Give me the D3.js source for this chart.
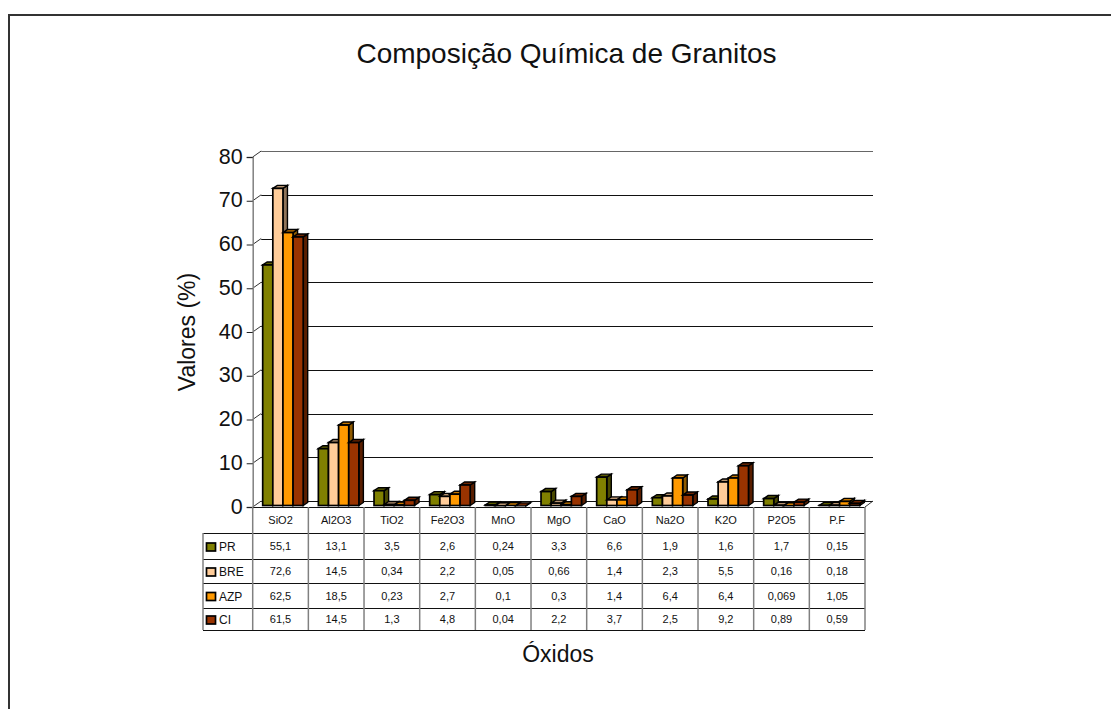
<!DOCTYPE html>
<html>
<head>
<meta charset="utf-8">
<title>Composição Química de Granitos</title>
<script src="https://cdn.jsdelivr.net/npm/d3@7"></script>
<style>
  html, body { margin: 0; padding: 0; background: #fff; }
  svg { display: block; }
  text { font-family: "Liberation Sans", Arial, sans-serif; fill: #111; }
</style>
</head>
<body>
<div id="chart"></div>
<script>
var oxides = ['SiO2', 'Al2O3', 'TiO2', 'Fe2O3', 'MnO', 'MgO', 'CaO', 'Na2O', 'K2O', 'P2O5', 'P.F']
var seriesNames = ['PR', 'BRE', 'AZP', 'CI']
var PR = [55.1, 13.1, 3.5, 2.6, 0.24, 3.3, 6.6, 1.9, 1.6, 1.7, 0.15]
var BRE = [72.6, 14.5, 0.34, 2.2, 0.05, 0.66, 1.4, 2.3, 5.5, 0.16, 0.18]
var AZP = [62.5, 18.5, 0.23, 2.7, 0.1, 0.3, 1.4, 6.4, 6.4, 0.069, 1.05]
var CI = [61.5, 14.5, 1.3, 4.8, 0.04, 2.2, 3.7, 2.5, 9.2, 0.89, 0.59]
var yTicks = [0, 10, 20, 30, 40, 50, 60, 70, 80]

var seriesValues = [PR, BRE, AZP, CI]
var fillColors = ['#808000', '#ffcc99', '#ff9900', '#993300']
var topColors = ['#5c5c00', '#b89470', '#c47600', '#6e2500']
var sideColors = ['#4a4a00', '#8f7358', '#8f5a00', '#591e00']

var width = 1111
var height = 709
var depthX = 8.5, depthY = -6     // depth of the back wall
var barDX = 4.5, barDY = -3       // depth of each bar
var rowEdges = [507, 533, 559, 583, 608, 630]
var tableLeft = 203

var svg = d3.select('#chart').append('svg')
    .attr('width', width)
    .attr('height', height)

// outer frame, runs off the right and bottom of the picture
svg.append('path')
    .attr('d', 'M9,709V15H1111')
    .attr('fill', 'none')
    .attr('stroke', '#333')
    .attr('stroke-width', 2)

var x = d3.scaleBand().domain(oxides).range([252.7, 865])
var xInner = d3.scaleBand().domain(seriesNames)
    .range([10, 50.5])
var y = d3.scaleLinear().domain([0, 80]).range([507, 157])

// gridlines on back wall
svg.selectAll('.grid')
    .data(yTicks)
    .enter().append('line')
    .attr('class', 'grid')
    .attr('x1', x.range()[0] + depthX)
    .attr('x2', 873)
    .attr('y1', function (d) { return Math.round(y(d) + depthY) + 0.5 })
    .attr('y2', function (d) { return Math.round(y(d) + depthY) + 0.5 })
    .attr('stroke', function (d) { return d == 80 ? '#666' : '#111' })
    .attr('stroke-width', 1.2)

// diagonals from the axis to back wall
svg.selectAll('.diag')
    .data(yTicks)
    .enter().append('line')
    .attr('class', 'diag')
    .attr('x1', x.range()[0])
    .attr('x2', x.range()[0] + depthX)
    .attr('y1', function (d) { return y(d) })
    .attr('y2', function (d) { return y(d) + depthY })
    .attr('stroke', '#333')

// floor edge on the right
svg.append('line')
    .attr('x1', 865).attr('y1', y(0))
    .attr('x2', 873).attr('y2', y(0) + depthY)
    .attr('stroke', '#333')

var yAxis = d3.axisLeft(y).tickValues(yTicks).tickSize(6).tickPadding(4)
var yG = svg.append('g')
    .attr('transform', 'translate(252.7,0)')
    .call(yAxis)
yG.select('.domain').attr('stroke', '#808080').attr('stroke-width', 1.5)
yG.selectAll('.tick line').attr('stroke', '#222')
yG.selectAll('.tick text')
    .attr('dy', '0.28em')
    .style('font-size', '21.5px')
    .style('font-family', '"Liberation Sans", Arial, sans-serif')
    .attr('fill', '#111')

// bars
oxides.forEach(function (ox, i) {
  seriesNames.forEach(function (name, s) {
    var v = seriesValues[s][i]
    var x0 = x(ox) + xInner(name)
    var x1 = x0 + xInner.bandwidth()
    var y0 = y(v) - 1
    var yb = y(0) - 1.5
    var g = svg.append('g').attr('class', 'bar')
    g.append('polygon')
        .attr('points', [[x1, y0], [x1 + barDX, y0 + barDY], [x1 + barDX, yb + barDY], [x1, yb]].join(' '))
        .attr('fill', sideColors[s])
        .attr('stroke', '#000')
        .attr('stroke-width', 1.4)
    g.append('polygon')
        .attr('points', [[x0, y0], [x0 + barDX, y0 + barDY], [x1 + barDX, y0 + barDY], [x1, y0]].join(' '))
        .attr('fill', topColors[s])
        .attr('stroke', '#000')
        .attr('stroke-width', 1.4)
    g.append('rect')
        .attr('x', x0)
        .attr('y', y0)
        .attr('width', x1 - x0)
        .attr('height', yb - y0)
        .attr('fill', fillColors[s])
        .attr('stroke', '#000')
        .attr('stroke-width', 1.7)
  })
})

// data table
var tableRight = x.range()[1]
svg.selectAll('.rowline')
    .data(rowEdges)
    .enter().append('line')
    .attr('class', 'rowline')
    .attr('x1', function (d, i) { return i == 0 ? x.range()[0] : tableLeft })
    .attr('x2', tableRight)
    .attr('y1', function (d) { return d + 0.5 })
    .attr('y2', function (d) { return d + 0.5 })
    .attr('stroke', '#111')
    .attr('stroke-width', 1.2)

var colEdges = oxides.map(function (d) { return x(d) }).concat([tableRight])
svg.selectAll('.colline')
    .data(colEdges)
    .enter().append('line')
    .attr('class', 'colline')
    .attr('x1', function (d) { return d })
    .attr('x2', function (d) { return d })
    .attr('y1', rowEdges[0])
    .attr('y2', rowEdges[5])
    .attr('stroke', '#808080')
    .attr('stroke-width', 1.5)
svg.append('line')
    .attr('x1', tableLeft).attr('x2', tableLeft)
    .attr('y1', rowEdges[1]).attr('y2', rowEdges[5])
    .attr('stroke', '#808080')
    .attr('stroke-width', 1.5)

svg.selectAll('.cat')
    .data(oxides)
    .enter().append('text')
    .attr('class', 'cat')
    .attr('x', function (d) { return x(d) + x.bandwidth() / 2 })
    .attr('y', 523.5)
    .attr('text-anchor', 'middle')
    .style('font-size', '11px')
    .text(function (d) { return d })

seriesNames.forEach(function (name, s) {
  var mid = (rowEdges[s + 1] + rowEdges[s + 2]) / 2
  svg.append('rect')
      .attr('x', 206.5)
      .attr('y', mid - 3)
      .attr('width', 9)
      .attr('height', 8)
      .attr('fill', fillColors[s])
      .attr('stroke', '#000')
      .attr('stroke-width', 1.7)
  svg.append('text')
      .attr('x', 219)
      .attr('y', mid + 5)
      .style('font-size', '12px')
      .text(name)
  svg.selectAll('.val' + s)
      .data(seriesValues[s])
      .enter().append('text')
      .attr('class', 'val' + s)
      .attr('x', function (d, i) { return x(oxides[i]) + x.bandwidth() / 2 })
      .attr('y', mid + 4)
      .attr('text-anchor', 'middle')
      .style('font-size', '11px')
      .text(function (d) { return String(d).replace('.', ',') })
})

// titles
svg.append('text')
    .attr('x', 566.5)
    .attr('y', 63)
    .attr('text-anchor', 'middle')
    .style('font-size', '28px')
    .text('Composição Química de Granitos')
svg.append('text')
    .attr('transform', 'translate(195,332) rotate(-90)')
    .attr('text-anchor', 'middle')
    .style('font-size', '23px')
    .text('Valores (%)')
svg.append('text')
    .attr('x', 558)
    .attr('y', 662)
    .attr('text-anchor', 'middle')
    .style('font-size', '23px')
    .text('Óxidos')
</script>
</body>
</html>
